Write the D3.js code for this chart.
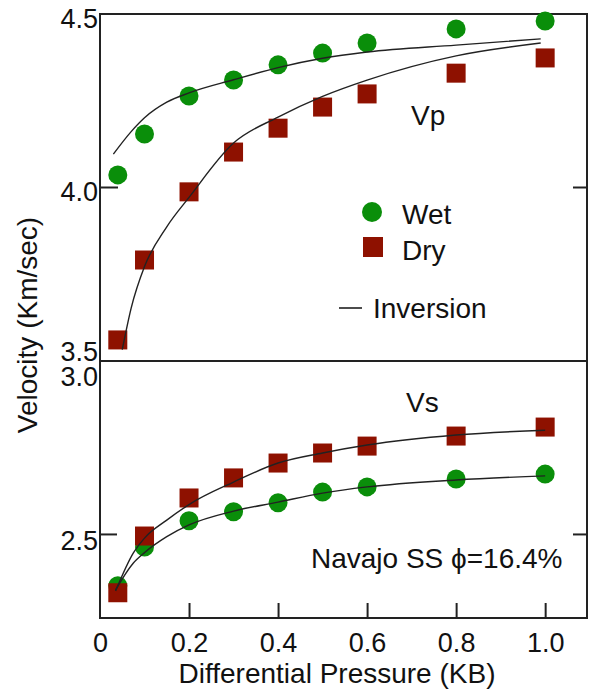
<!DOCTYPE html>
<html>
<head>
<meta charset="utf-8">
<script src="https://cdn.jsdelivr.net/npm/d3@7"></script>
<style>
  body { margin: 0; background: #fff; }
  text { font-family: "Liberation Sans", Arial, sans-serif; fill: #111; }
</style>
</head>
<body>
<div id="chart"></div>
<script>
// measured points (pressure in KB, velocity in km/s)
var pressure = [0.04, 0.1, 0.2, 0.3, 0.4, 0.5, 0.6, 0.8, 1.0];
var vpWet = [4.035, 4.153, 4.263, 4.309, 4.353, 4.387, 4.416, 4.457, 4.48];
var vpDry = [3.558, 3.789, 3.986, 4.101, 4.170, 4.231, 4.269, 4.329, 4.373];
var vsWet = [2.35, 2.462, 2.538, 2.564, 2.59, 2.621, 2.636, 2.659, 2.673];
var vsDry = [2.33, 2.494, 2.604, 2.662, 2.705, 2.734, 2.754, 2.783, 2.809];

// inversion curves
var invPTopWet = [0.03, 0.07, 0.1, 0.15, 0.2, 0.3, 0.4, 0.5, 0.6, 0.8, 0.99];
var invVpWet = [4.095, 4.16, 4.2, 4.245, 4.272, 4.31, 4.345, 4.372, 4.39, 4.41, 4.428];
var invPTopDry = [0.05, 0.07, 0.1, 0.15, 0.2, 0.3, 0.4, 0.5, 0.6, 0.8, 0.99];
var invVpDry = [3.53, 3.65, 3.77, 3.885, 3.97, 4.127, 4.202, 4.262, 4.309, 4.379, 4.416];
var invPBot = [0.035, 0.075, 0.1, 0.15, 0.2, 0.3, 0.4, 0.5, 0.6, 0.8, 1.0];
var invVsDry = [2.335, 2.445, 2.488, 2.54, 2.585, 2.65, 2.705, 2.734, 2.757, 2.786, 2.8];
var invVsWet = [2.338, 2.416, 2.446, 2.492, 2.526, 2.566, 2.592, 2.618, 2.636, 2.656, 2.668];

var xTicks = [0, 0.2, 0.4, 0.6, 0.8, 1.0];
var vpTicks = [3.5, 4.0, 4.5];
var vsTicks = [2.5, 3.0];

var wetColor = "#0a8e0a",
    dryColor = "#8e1100",
    frameColor = "#222",
    fs = "28px";

var width = 590, height = 692;
var pLeft = 100, pRight = 587, pTop = 14, pMid = 361, pBottom = 618;

var svg = d3.select("#chart").append("svg")
    .attr("width", width)
    .attr("height", height);

var x = d3.scaleLinear().domain([0, 1.094]).range([pLeft, pRight]);
var yTop = d3.scaleLinear().domain([3.5, 4.5]).range([pMid - 1, pTop]);
var yBot = d3.scaleLinear().domain([2.257, 3.0]).range([pBottom, pMid]);

// frame + divider
svg.append("rect")
    .attr("x", pLeft).attr("y", pTop)
    .attr("width", pRight - pLeft).attr("height", pBottom - pTop)
    .attr("fill", "none")
    .attr("stroke", frameColor)
    .attr("stroke-width", 2);
svg.append("line")
    .attr("x1", pLeft).attr("x2", pRight)
    .attr("y1", pMid).attr("y2", pMid)
    .attr("stroke", frameColor)
    .attr("stroke-width", 2);

// inward ticks
function ticks(g) {
  g.select(".domain").remove();
  g.selectAll(".tick line").attr("stroke", frameColor).attr("stroke-width", 2);
  g.selectAll(".tick text").remove();
}
svg.append("g").attr("transform", "translate(0," + pBottom + ")")
    .call(d3.axisTop(x).tickValues([0.2, 0.4, 0.6, 0.8, 1.0]).tickSize(15))
    .call(ticks);
svg.append("g").attr("transform", "translate(" + pLeft + ",0)")
    .call(d3.axisRight(yTop).tickValues([4.0]).tickSize(18))
    .call(ticks);
svg.append("g").attr("transform", "translate(" + pLeft + ",0)")
    .call(d3.axisRight(yBot).tickValues([2.5]).tickSize(17))
    .call(ticks);
svg.append("g").attr("transform", "translate(" + pRight + ",0)")
    .call(d3.axisLeft(yTop).tickValues([4.0]).tickSize(14))
    .call(ticks);
svg.append("g").attr("transform", "translate(" + pRight + ",0)")
    .call(d3.axisLeft(yBot).tickValues([2.5]).tickSize(14))
    .call(ticks);

// tick labels
function labels(g) {
  g.select(".domain").remove();
  g.selectAll(".tick line").remove();
  g.selectAll(".tick text")
    .style("font-size", "27px")
    .attr("fill", "#111");
}
svg.append("g").attr("transform", "translate(0," + pBottom + ")")
    .call(d3.axisBottom(x).tickValues(xTicks).tickSize(0).tickPadding(15)
      .tickFormat(function(d) { return d === 0 ? "0" : d3.format(".1f")(d); }))
    .call(labels);
svg.append("g").attr("transform", "translate(" + (pLeft - 2) + ",0)")
    .call(d3.axisLeft(yTop).tickValues(vpTicks).tickSize(0).tickPadding(0).tickFormat(d3.format(".1f")))
    .call(labels)
    .selectAll(".tick text")
    .attr("dy", function(d) { return d === 3.5 ? "0em" : "0.5em"; });
svg.append("g").attr("transform", "translate(" + (pLeft - 2) + ",0)")
    .call(d3.axisLeft(yBot).tickValues(vsTicks).tickSize(0).tickPadding(0).tickFormat(d3.format(".1f")))
    .call(labels)
    .selectAll(".tick text")
    .attr("dy", function(d) { return d === 3.0 ? "0.92em" : "0.56em"; });

// markers
function points(yScale, wet, dry) {
  svg.append("g").selectAll("circle")
    .data(wet)
    .join("circle")
    .attr("cx", function(d, i) { return x(pressure[i]); })
    .attr("cy", function(d) { return yScale(d); })
    .attr("r", 9.5)
    .attr("fill", wetColor);
  svg.append("g").selectAll("rect")
    .data(dry)
    .join("rect")
    .attr("x", function(d, i) { return x(pressure[i]) - 9.5; })
    .attr("y", function(d) { return yScale(d) - 9.5; })
    .attr("width", 19)
    .attr("height", 19)
    .attr("fill", dryColor);
}
points(yTop, vpWet, vpDry);
points(yBot, vsWet, vsDry);

// inversion curves
function curve(ps, vs, yScale) {
  var line = d3.line()
    .x(function(d) { return x(d[0]); })
    .y(function(d) { return yScale(d[1]); })
    .curve(d3.curveMonotoneX);
  svg.append("path")
    .attr("d", line(d3.zip(ps, vs)))
    .attr("fill", "none")
    .attr("stroke", "#222")
    .attr("stroke-width", 1.4);
}
curve(invPTopWet, invVpWet, yTop);
curve(invPTopDry, invVpDry, yTop);
curve(invPBot, invVsDry, yBot);
curve(invPBot, invVsWet, yBot);

// annotations
svg.append("text").attr("x", 411).attr("y", 125).text("Vp").style("font-size", fs);
svg.append("text").attr("x", 406).attr("y", 412).text("Vs").style("font-size", fs);
svg.append("text").attr("x", 311).attr("y", 568).text("Navajo SS \u03d5=16.4%").style("font-size", fs);

// legend
svg.append("circle").attr("cx", 372).attr("cy", 212).attr("r", 10).attr("fill", wetColor);
svg.append("text").attr("x", 402).attr("y", 224).text("Wet").style("font-size", fs);
svg.append("rect").attr("x", 363).attr("y", 237).attr("width", 20).attr("height", 20).attr("fill", dryColor);
svg.append("text").attr("x", 402).attr("y", 260).text("Dry").style("font-size", fs);
svg.append("line").attr("x1", 339).attr("x2", 362).attr("y1", 308).attr("y2", 308)
    .attr("stroke", "#111").attr("stroke-width", 1.5);
svg.append("text").attr("x", 373).attr("y", 318).text("Inversion").style("font-size", fs);

// axis titles
svg.append("text")
    .attr("x", 337).attr("y", 683)
    .attr("text-anchor", "middle")
    .style("font-size", fs)
    .text("Differential Pressure (KB)");
svg.append("text")
    .attr("transform", "translate(37,325) rotate(-90)")
    .attr("text-anchor", "middle")
    .style("font-size", fs)
    .text("Velocity (Km/sec)");
</script>
</body>
</html>
